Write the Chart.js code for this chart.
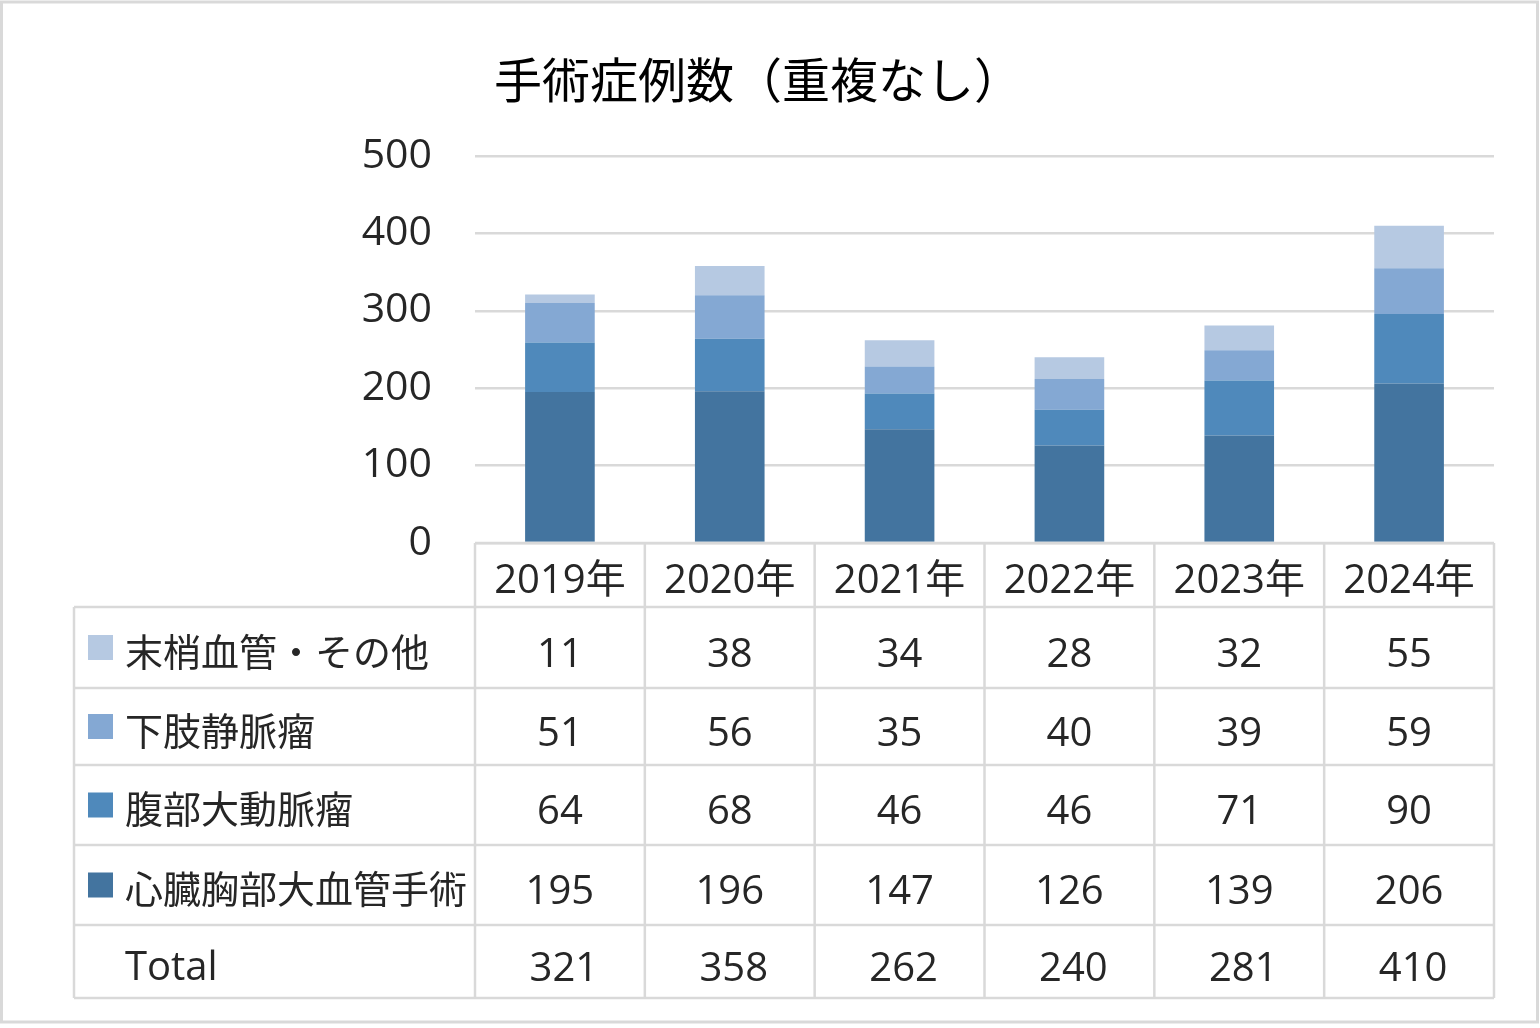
<!DOCTYPE html>
<html><head><meta charset="utf-8">
<script src="https://cdn.jsdelivr.net/npm/chart.js@4/dist/chart.umd.min.js"></script>
<style>html,body{margin:0;padding:0;background:#fff;}canvas{display:block}</style>
</head><body>
<canvas id="c" width="1540" height="1028"></canvas>
<script>
const chartTitle = '手術症例数（重複なし）';
const categories = ['2019年','2020年','2021年','2022年','2023年','2024年'];
const cardiac = [195,196,147,126,139,206];
const aortic = [64,68,46,46,71,90];
const varicose = [51,56,35,40,39,59];
const peripheral = [11,38,34,28,32,55];
const totals = [321,358,262,240,281,410];
const yTickValues = [0,100,200,300,400,500];
const seriesNames = ['心臓胸部大血管手術','腹部大動脈瘤','下肢静脈瘤','末梢血管・その他'];
const totalLabel = 'Total';

const colors = ['#43749f','#4f89bb','#84a8d3','#b6c9e2'];
const NUM_FONT = '"Open Sans", "Noto Sans CJK JP", sans-serif';
const CJK_FONT = '"Noto Sans CJK JP", "Open Sans", sans-serif';
const TEXT = '#262626';
const LINE = '#d9d9d9';

const tablePlugin = {
  id: 'dataTable',
  afterDraw(chart) {
    const ctx = chart.ctx, x = chart.scales.x, area = chart.chartArea;
    const half = (x.getPixelForValue(1) - x.getPixelForValue(0)) / 2;
    const tableLeft = 74;
    const rows = [area.bottom, 607, 688, 765, 845, 925, 998];
    const bottom = rows[rows.length-1];
    ctx.save();
    ctx.strokeStyle = LINE; ctx.lineWidth = 3;
    ctx.strokeRect(1.5, 2, 1536, 1020);
    ctx.lineWidth = 2.5;
    ctx.beginPath();
    ctx.moveTo(area.left, rows[0]); ctx.lineTo(area.right, rows[0]);
    for (let r = 1; r < rows.length; r++) { ctx.moveTo(tableLeft, rows[r]); ctx.lineTo(area.right, rows[r]); }
    ctx.moveTo(tableLeft, rows[1]); ctx.lineTo(tableLeft, bottom);
    for (let i = 0; i <= categories.length; i++) {
      const px = (i < categories.length ? x.getPixelForValue(i) - half : x.getPixelForValue(categories.length-1) + half);
      ctx.moveTo(px, rows[0]); ctx.lineTo(px, bottom);
    }
    ctx.stroke();
    ctx.fillStyle = TEXT; ctx.textAlign = 'center'; ctx.textBaseline = 'alphabetic';
    ctx.font = '40px ' + NUM_FONT;
    categories.forEach((c, i) => {
      const cy = (rows[0] + rows[1]) / 2 + 4;
      ctx.fillText(c, x.getPixelForValue(i), cy + 14);
    });
    const tableRows = [
      {name: seriesNames[3], color: colors[3], vals: peripheral, dx: 0},
      {name: seriesNames[2], color: colors[2], vals: varicose, dx: 0},
      {name: seriesNames[1], color: colors[1], vals: aortic, dx: 0},
      {name: seriesNames[0], color: colors[0], vals: cardiac, dx: 0},
      {name: totalLabel, color: null, vals: totals, dx: 4}
    ];
    tableRows.forEach((row, r) => {
      const cy = (rows[r+1] + rows[r+2]) / 2;
      if (row.color) {
        ctx.fillStyle = row.color;
        ctx.fillRect(88, cy - 12.5, 25, 25);
      }
      ctx.fillStyle = TEXT;
      ctx.textAlign = 'left';
      ctx.font = (row.color ? '38px ' + CJK_FONT : '40px ' + NUM_FONT);
      ctx.fillText(row.name, 125, cy + 4 + 14);
      ctx.textAlign = 'center';
      ctx.font = '40px ' + NUM_FONT;
      row.vals.forEach((v, i) => {
        ctx.fillText(String(v), x.getPixelForValue(i) + row.dx, cy + 5 + 14);
      });
    });
    ctx.restore();
  }
};

new Chart(document.getElementById('c'), {
  type: 'bar',
  data: {
    labels: categories,
    datasets: [
      {label: seriesNames[0], data: cardiac, backgroundColor: colors[0]},
      {label: seriesNames[1], data: aortic, backgroundColor: colors[1]},
      {label: seriesNames[2], data: varicose, backgroundColor: colors[2]},
      {label: seriesNames[3], data: peripheral, backgroundColor: colors[3]}
    ]
  },
  options: {
    responsive: false,
    animation: false,
    layout: {padding: {left: 22, right: 46, top: 0, bottom: 485}},
    datasets: {bar: {categoryPercentage: 1, barPercentage: 0.41}},
    plugins: {
      legend: {display: false},
      tooltip: {enabled: false},
      title: {
        display: true, text: chartTitle, color: '#000',
        font: {family: CJK_FONT, size: 48, weight: 'normal', lineHeight: 1.2},
        padding: {top: 51, bottom: 47.4}
      }
    },
    scales: {
      x: {display: false, stacked: true, offset: true},
      y: {
        stacked: true, min: 0, max: 500,
        afterBuildTicks(scale) { scale.ticks = yTickValues.map(v => ({value: v})); },
        afterFit(scale) { scale.width = 453; },
        ticks: {color: TEXT, padding: 43, font: {family: NUM_FONT, size: 41}},
        grid: {color: LINE, lineWidth: 2.5, drawTicks: false},
        border: {display: false}
      }
    }
  },
  plugins: [tablePlugin]
});
</script>
</body></html>
